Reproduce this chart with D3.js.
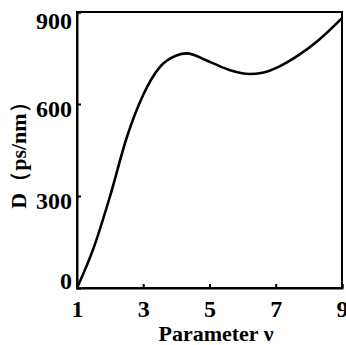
<!DOCTYPE html>
<html><head><meta charset="utf-8">
<script src="https://cdn.jsdelivr.net/npm/d3@7"></script>
<style>
html,body{margin:0;padding:0;background:#fff;}
svg{display:block;}
text{font-family:"Liberation Serif","DejaVu Serif",serif;font-weight:bold;fill:#000;}
</style></head><body>
<svg id="c" width="346" height="345"></svg>
<script>
const paramV = [1, 1.5, 2, 2.5, 3, 3.5, 4, 4.3, 5, 5.6, 6.2, 6.6, 7.1, 7.7, 8.3, 9];
const dispersion = [0, 130, 300, 490, 630, 720, 758, 765, 738, 711, 698, 702, 722, 760, 809, 880];
const xTicks = [1, 3, 5, 7, 9];
const yTicks = [0, 300, 600, 900];
const xLabel = "Parameter ν";
const yLabel = "D（ps/nm）";

const W = 346, H = 345;
const m = {left: 77, right: 4, top: 12, bottom: 57};
const svg = d3.select("#c");
const x = d3.scaleLinear().domain([1, 9]).range([m.left, W - m.right]);
const y = d3.scaleLinear().domain([0, 900]).range([H - m.bottom, m.top]);

svg.append("rect").attr("x", x(1)).attr("y", y(900))
  .attr("width", x(9) - x(1)).attr("height", y(0) - y(900))
  .attr("fill", "none").attr("stroke", "#000").attr("stroke-width", 2);

const xa = svg.append("g").attr("transform", `translate(0,${y(0)})`)
  .call(d3.axisBottom(x).tickValues(xTicks).tickSize(-4).tickPadding(15).tickFormat(d3.format("d")));
const ya = svg.append("g").attr("transform", `translate(${x(1)},0)`)
  .call(d3.axisLeft(y).tickValues(yTicks).tickSize(-4).tickPadding(5).tickFormat(d3.format("d")));
[xa, ya].forEach(g => {
  g.select(".domain").attr("stroke", "#000").attr("stroke-width", 2);
  g.selectAll(".tick line").attr("stroke", "#000").attr("stroke-width", 2);
  g.selectAll(".tick text").style("font-size", "24px").style("font-family", "'Liberation Serif',serif").style("font-weight", "bold");
});
xa.selectAll(".tick text").attr("dy", "0.6em");
ya.selectAll(".tick text").attr("dy", d => d === 900 ? "0.68em" : d === 0 ? "0.02em" : "0.5em");

svg.append("path")
  .datum(paramV.map((v, i) => [v, dispersion[i]]))
  .attr("fill", "none").attr("stroke", "#000").attr("stroke-width", 2.6)
  .attr("stroke-linejoin", "round")
  .attr("d", d3.line().x(d => x(d[0])).y(d => y(d[1])).curve(d3.curveMonotoneX));

svg.append("text").attr("x", 216).attr("y", 341).attr("text-anchor", "middle")
  .style("font-size", "22px").text(xLabel);
svg.append("text").attr("transform", "translate(26,150) rotate(-90)").attr("text-anchor", "middle")
  .style("font-size", "22px").text(yLabel);
</script></body></html>
